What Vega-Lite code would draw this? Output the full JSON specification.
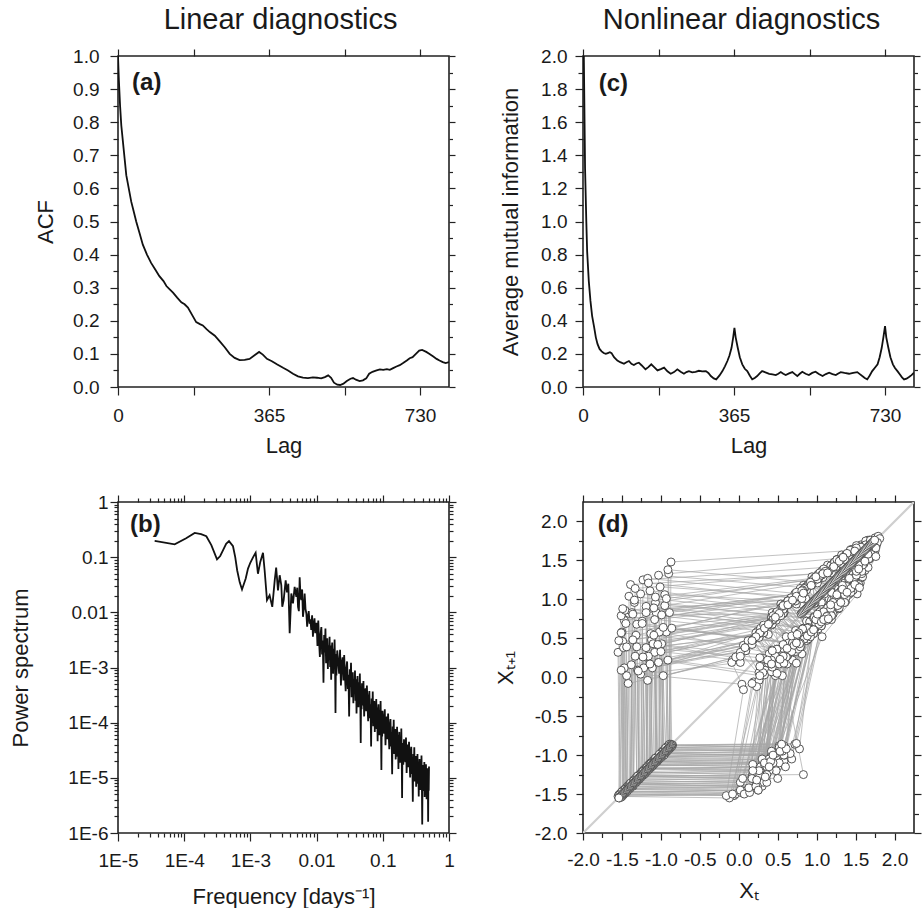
{
"$schema":"https://vega.github.io/schema/vega-lite/v6.json",
"background":"white",
"padding":{"left":9,"top":5,"right":0,"bottom":0},
"config":{
 "font":"Liberation Sans",
 "view":{"stroke":"#222","strokeWidth":1.6},
 "axis":{"grid":false,"domain":false,"labelFlush":false,"labelOverlap":false,"tickColor":"#222","tickWidth":1.2,"tickSize":8,"labelColor":"#1a1a1a","titleColor":"#1a1a1a","labelFontSize":19,"titleFontSize":22,"titleFontWeight":"normal","labelFont":"Liberation Sans","titleFont":"Liberation Sans"},
 "title":{"fontWeight":"normal","color":"#1a1a1a","font":"Liberation Sans"}
},
"columns":2,
"spacing":{"row":115,"column":134},
"bounds":"flush",
"concat":[
{
 "width":331,"height":331,
 "title":{"text":"Linear diagnostics","fontSize":29,"frame":"group","offset":12,"anchor":"middle","dx":-3},
 "data":{"values":[{"lag":0,"acf":1.0},{"lag":2,"acf":0.93},{"lag":5,"acf":0.85},{"lag":8,"acf":0.79},{"lag":12,"acf":0.74},{"lag":16,"acf":0.69},{"lag":20,"acf":0.64},{"lag":26,"acf":0.6},{"lag":32,"acf":0.56},{"lag":38,"acf":0.53},{"lag":44,"acf":0.5},{"lag":52,"acf":0.465},{"lag":60,"acf":0.43},{"lag":70,"acf":0.4},{"lag":80,"acf":0.375},{"lag":90,"acf":0.355},{"lag":100,"acf":0.335},{"lag":110,"acf":0.32},{"lag":117,"acf":0.305},{"lag":125,"acf":0.295},{"lag":133,"acf":0.285},{"lag":143,"acf":0.27},{"lag":153,"acf":0.256},{"lag":161,"acf":0.25},{"lag":169,"acf":0.24},{"lag":178,"acf":0.22},{"lag":189,"acf":0.196},{"lag":198,"acf":0.19},{"lag":205,"acf":0.186},{"lag":214,"acf":0.175},{"lag":222,"acf":0.166},{"lag":234,"acf":0.155},{"lag":246,"acf":0.138},{"lag":258,"acf":0.12},{"lag":270,"acf":0.1},{"lag":282,"acf":0.088},{"lag":294,"acf":0.081},{"lag":306,"acf":0.082},{"lag":318,"acf":0.085},{"lag":330,"acf":0.096},{"lag":341,"acf":0.106},{"lag":350,"acf":0.098},{"lag":360,"acf":0.085},{"lag":372,"acf":0.078},{"lag":385,"acf":0.068},{"lag":399,"acf":0.058},{"lag":411,"acf":0.05},{"lag":423,"acf":0.04},{"lag":435,"acf":0.032},{"lag":447,"acf":0.028},{"lag":459,"acf":0.027},{"lag":471,"acf":0.029},{"lag":481,"acf":0.028},{"lag":491,"acf":0.026},{"lag":500,"acf":0.03},{"lag":508,"acf":0.035},{"lag":515,"acf":0.028},{"lag":522,"acf":0.013},{"lag":530,"acf":0.007},{"lag":537,"acf":0.006},{"lag":545,"acf":0.01},{"lag":553,"acf":0.018},{"lag":562,"acf":0.025},{"lag":568,"acf":0.027},{"lag":575,"acf":0.022},{"lag":584,"acf":0.018},{"lag":592,"acf":0.02},{"lag":600,"acf":0.026},{"lag":607,"acf":0.04},{"lag":615,"acf":0.046},{"lag":625,"acf":0.05},{"lag":633,"acf":0.053},{"lag":641,"acf":0.052},{"lag":650,"acf":0.054},{"lag":657,"acf":0.052},{"lag":665,"acf":0.057},{"lag":673,"acf":0.062},{"lag":681,"acf":0.066},{"lag":690,"acf":0.073},{"lag":698,"acf":0.08},{"lag":705,"acf":0.087},{"lag":712,"acf":0.09},{"lag":720,"acf":0.1},{"lag":728,"acf":0.11},{"lag":735,"acf":0.112},{"lag":745,"acf":0.106},{"lag":753,"acf":0.1},{"lag":762,"acf":0.092},{"lag":770,"acf":0.085},{"lag":777,"acf":0.08},{"lag":785,"acf":0.075},{"lag":792,"acf":0.072},{"lag":800,"acf":0.075}]},
 "layer":[
  {"mark":{"type":"line","color":"#111","strokeWidth":1.8,"clip":true},
   "encoding":{
    "x":{"field":"lag","type":"quantitative","scale":{"domain":[0,800],"nice":false,"zero":false},"axis":{"orient":"bottom","values":[0,182.5,365,547.5,730],"labelExpr":"datum.value % 365 == 0 ? datum.label : ''","title":"Lag","labelPadding":11,"titlePadding":10}},
    "y":{"field":"acf","type":"quantitative","scale":{"domain":[0,1],"nice":false},"axis":{"orient":"left","values":[0,0.1,0.2,0.3,0.4,0.5,0.6,0.7,0.8,0.9,1],"format":".1f","title":"ACF","labelPadding":11,"titlePadding":15}}}},
  {"data":{"values":[{"lag":0,"acf":0}]},"mark":{"type":"point","opacity":0},
   "encoding":{
    "x":{"field":"lag","type":"quantitative","axis":{"orient":"top","values":[0,182.5,365,547.5,730],"labels":false,"title":null,"tickSize":7}},
    "y":{"field":"acf","type":"quantitative","axis":{"orient":"right","values":[0,0.1,0.2,0.3,0.4,0.5,0.6,0.7,0.8,0.9,1],"labels":false,"title":null,"tickSize":6}}}},
  {"data":{"values":[{"lag":0,"acf":0}]},"mark":{"type":"point","opacity":0},
   "encoding":{
    "x":{"field":"lag","type":"quantitative","axis":null},
    "y":{"field":"acf","type":"quantitative","axis":{"orient":"left","values":[0.05,0.15,0.25,0.35,0.45,0.55,0.65,0.75,0.85,0.95],"labels":false,"title":null,"tickSize":5}}}},
  {"data":{"values":[{"lag":0,"acf":0}]},"mark":{"type":"point","opacity":0},
   "encoding":{
    "x":{"field":"lag","type":"quantitative","axis":null},
    "y":{"field":"acf","type":"quantitative","axis":{"orient":"right","values":[0.05,0.15,0.25,0.35,0.45,0.55,0.65,0.75,0.85,0.95],"labels":false,"title":null,"tickSize":3.5}}}},
  {"data":{"values":[{}]},"mark":{"type":"text","text":"(a)","fontSize":24,"fontWeight":"bold","align":"left","baseline":"alphabetic","color":"#1a1a1a"},
   "encoding":{"x":{"datum":34,"type":"quantitative","axis":null},"y":{"datum":0.897,"type":"quantitative","axis":null}}}
 ],
 "resolve":{"axis":{"x":"independent","y":"independent"}}
},
{
 "width":331,"height":331,
 "title":{"text":"Nonlinear diagnostics","fontSize":29,"frame":"group","offset":12,"anchor":"middle","dx":-7},
 "data":{"values":[{"lag":0,"ami":2.6},{"lag":2,"ami":2.0},{"lag":5,"ami":1.32},{"lag":8,"ami":1.0},{"lag":10,"ami":0.82},{"lag":14,"ami":0.64},{"lag":18,"ami":0.52},{"lag":22,"ami":0.43},{"lag":27,"ami":0.36},{"lag":31,"ami":0.3},{"lag":35,"ami":0.26},{"lag":40,"ami":0.23},{"lag":45,"ami":0.215},{"lag":50,"ami":0.205},{"lag":55,"ami":0.2},{"lag":60,"ami":0.205},{"lag":65,"ami":0.21},{"lag":69,"ami":0.205},{"lag":75,"ami":0.18},{"lag":83,"ami":0.16},{"lag":90,"ami":0.15},{"lag":99,"ami":0.14},{"lag":105,"ami":0.15},{"lag":111,"ami":0.157},{"lag":117,"ami":0.14},{"lag":123,"ami":0.133},{"lag":129,"ami":0.142},{"lag":135,"ami":0.147},{"lag":142,"ami":0.13},{"lag":151,"ami":0.107},{"lag":158,"ami":0.12},{"lag":165,"ami":0.137},{"lag":172,"ami":0.12},{"lag":180,"ami":0.1},{"lag":188,"ami":0.108},{"lag":196,"ami":0.117},{"lag":204,"ami":0.095},{"lag":212,"ami":0.08},{"lag":220,"ami":0.09},{"lag":228,"ami":0.107},{"lag":236,"ami":0.092},{"lag":244,"ami":0.08},{"lag":250,"ami":0.09},{"lag":256,"ami":0.096},{"lag":264,"ami":0.088},{"lag":272,"ami":0.092},{"lag":280,"ami":0.098},{"lag":288,"ami":0.094},{"lag":297,"ami":0.096},{"lag":303,"ami":0.085},{"lag":309,"ami":0.066},{"lag":316,"ami":0.052},{"lag":322,"ami":0.046},{"lag":330,"ami":0.07},{"lag":337,"ami":0.096},{"lag":343,"ami":0.125},{"lag":349,"ami":0.157},{"lag":354,"ami":0.19},{"lag":359,"ami":0.237},{"lag":363,"ami":0.3},{"lag":366,"ami":0.358},{"lag":369,"ami":0.3},{"lag":374,"ami":0.237},{"lag":379,"ami":0.18},{"lag":385,"ami":0.137},{"lag":391,"ami":0.11},{"lag":397,"ami":0.096},{"lag":403,"ami":0.07},{"lag":409,"ami":0.046},{"lag":415,"ami":0.055},{"lag":421,"ami":0.066},{"lag":427,"ami":0.082},{"lag":433,"ami":0.096},{"lag":441,"ami":0.088},{"lag":450,"ami":0.08},{"lag":458,"ami":0.076},{"lag":466,"ami":0.072},{"lag":472,"ami":0.08},{"lag":478,"ami":0.09},{"lag":484,"ami":0.08},{"lag":490,"ami":0.072},{"lag":498,"ami":0.082},{"lag":506,"ami":0.09},{"lag":512,"ami":0.078},{"lag":518,"ami":0.066},{"lag":524,"ami":0.08},{"lag":530,"ami":0.092},{"lag":538,"ami":0.08},{"lag":546,"ami":0.072},{"lag":554,"ami":0.085},{"lag":562,"ami":0.092},{"lag":570,"ami":0.078},{"lag":579,"ami":0.066},{"lag":587,"ami":0.078},{"lag":595,"ami":0.086},{"lag":603,"ami":0.078},{"lag":611,"ami":0.072},{"lag":617,"ami":0.082},{"lag":623,"ami":0.09},{"lag":632,"ami":0.085},{"lag":643,"ami":0.08},{"lag":653,"ami":0.085},{"lag":663,"ami":0.09},{"lag":669,"ami":0.078},{"lag":675,"ami":0.066},{"lag":681,"ami":0.055},{"lag":687,"ami":0.046},{"lag":693,"ami":0.07},{"lag":699,"ami":0.096},{"lag":705,"ami":0.115},{"lag":712,"ami":0.137},{"lag":717,"ami":0.18},{"lag":722,"ami":0.237},{"lag":726,"ami":0.3},{"lag":730,"ami":0.368},{"lag":733,"ami":0.3},{"lag":738,"ami":0.237},{"lag":743,"ami":0.18},{"lag":749,"ami":0.137},{"lag":754,"ami":0.115},{"lag":760,"ami":0.096},{"lag":766,"ami":0.075},{"lag":771,"ami":0.058},{"lag":776,"ami":0.046},{"lag":782,"ami":0.05},{"lag":788,"ami":0.06},{"lag":794,"ami":0.072},{"lag":800,"ami":0.086}]},
 "layer":[
  {"mark":{"type":"line","color":"#111","strokeWidth":1.8,"clip":true},
   "encoding":{
    "x":{"field":"lag","type":"quantitative","scale":{"domain":[0,800],"nice":false,"zero":false},"axis":{"orient":"bottom","values":[0,182.5,365,547.5,730],"labelExpr":"datum.value % 365 == 0 ? datum.label : ''","title":"Lag","labelPadding":11,"titlePadding":10}},
    "y":{"field":"ami","type":"quantitative","scale":{"domain":[0,2],"nice":false},"axis":{"orient":"left","values":[0,0.2,0.4,0.6,0.8,1,1.2,1.4,1.6,1.8,2],"format":".1f","title":"Average mutual information","labelPadding":8,"titlePadding":18}}}},
  {"data":{"values":[{"lag":0,"ami":0}]},"mark":{"type":"point","opacity":0},
   "encoding":{
    "x":{"field":"lag","type":"quantitative","axis":{"orient":"top","values":[0,182.5,365,547.5,730],"labels":false,"title":null,"tickSize":7}},
    "y":{"field":"ami","type":"quantitative","axis":{"orient":"right","values":[0,0.2,0.4,0.6,0.8,1,1.2,1.4,1.6,1.8,2],"labels":false,"title":null,"tickSize":6}}}},
  {"data":{"values":[{"lag":0,"ami":0}]},"mark":{"type":"point","opacity":0},
   "encoding":{
    "x":{"field":"lag","type":"quantitative","axis":null},
    "y":{"field":"ami","type":"quantitative","axis":{"orient":"left","values":[0.1,0.3,0.5,0.7,0.9,1.1,1.3,1.5,1.7,1.9],"labels":false,"title":null,"tickSize":5}}}},
  {"data":{"values":[{"lag":0,"ami":0}]},"mark":{"type":"point","opacity":0},
   "encoding":{
    "x":{"field":"lag","type":"quantitative","axis":null},
    "y":{"field":"ami","type":"quantitative","axis":{"orient":"right","values":[0.1,0.3,0.5,0.7,0.9,1.1,1.3,1.5,1.7,1.9],"labels":false,"title":null,"tickSize":3.5}}}},
  {"data":{"values":[{}]},"mark":{"type":"text","text":"(c)","fontSize":24,"fontWeight":"bold","align":"left","baseline":"alphabetic","color":"#1a1a1a"},
   "encoding":{"x":{"datum":38,"type":"quantitative","axis":null},"y":{"datum":1.789,"type":"quantitative","axis":null}}}
 ],
 "resolve":{"axis":{"x":"independent","y":"independent"}}
},
{
 "width":331,"height":331,
 "data":{"values":[{"f":3.58e-5,"p":0.197},{"f":7.18e-5,"p":0.171},{"f":1.07e-4,"p":0.22},{"f":1.44e-4,"p":0.275},{"f":1.8e-4,"p":0.262},{"f":2.16e-4,"p":0.24},{"f":2.57e-4,"p":0.165},{"f":3.13e-4,"p":0.091},{"f":3.5e-4,"p":0.105},{"f":3.85e-4,"p":0.133},{"f":4.3e-4,"p":0.175},{"f":4.75e-4,"p":0.195},{"f":5.46e-4,"p":0.158},{"f":5.9e-4,"p":0.1},{"f":6.31e-4,"p":0.058},{"f":6.9e-4,"p":0.035},{"f":7.47e-4,"p":0.026},{"f":8.5e-4,"p":0.041},{"f":9.2e-4,"p":0.062},{"f":1.0e-3,"p":0.08},{"f":1.1e-3,"p":0.1},{"f":1.2e-3,"p":0.12},{"f":1.3e-3,"p":0.05},{"f":1.41e-3,"p":0.082},{"f":1.55e-3,"p":0.12},{"f":1.64e-3,"p":0.058},{"f":1.78e-3,"p":0.0166},{"f":1.95e-3,"p":0.0204},{"f":2.14e-3,"p":0.0126},{"f":2.33e-3,"p":0.038},{"f":2.45e-3,"p":0.065},{"f":2.61e-3,"p":0.025},{"f":2.77e-3,"p":0.047},{"f":2.93e-3,"p":0.031},{"f":3.03e-3,"p":0.0126},{"f":3.18e-3,"p":0.0166},{"f":3.41e-3,"p":0.038},{"f":3.57e-3,"p":0.023},{"f":3.74e-3,"p":0.033},{"f":3.92e-3,"p":0.0042},{"f":4.15e-3,"p":0.022},{"f":4.4e-3,"p":0.0145},{"f":4.66e-3,"p":0.029},{"f":4.94e-3,"p":0.019},{"f":5.1e-3,"p":0.028},{"f":5.24e-3,"p":0.0126},{"f":5.4e-3,"p":0.0105},{"f":5.55e-3,"p":0.043},{"f":5.7e-3,"p":0.021},{"f":5.87e-3,"p":0.0166},{"f":6.05e-3,"p":0.026},{"f":6.22e-3,"p":0.0083},{"f":6.4e-3,"p":0.0115},{"f":6.6e-3,"p":0.022},{"f":6.8e-3,"p":0.0115},{"f":7.0e-3,"p":0.0095},{"f":7.2e-3,"p":0.0055},{"f":7.4e-3,"p":0.0082},{"f":7.6e-3,"p":0.0105},{"f":7.85e-3,"p":0.0062},{"f":8.05e-3,"p":0.0075},{"f":8.3e-3,"p":0.0048},{"f":8.55e-3,"p":0.0088},{"f":8.8e-3,"p":0.0036},{"f":9.05e-3,"p":0.0062},{"f":9.3e-3,"p":0.0078},{"f":9.55e-3,"p":0.0042},
 {"f":0.0100,"p":6.46e-3},{"f":0.0103,"p":2.46e-3},{"f":0.0106,"p":7.1e-3},{"f":0.0109,"p":3.0e-3},{"f":0.0112,"p":1.56e-3},{"f":0.0115,"p":4.1e-3},{"f":0.0118,"p":5.4e-3},{"f":0.0121,"p":1.73e-3},{"f":0.0124,"p":3.1e-3},{"f":0.0127,"p":5.3e-4},{"f":0.0130,"p":3.87e-3},{"f":0.0133,"p":1.88e-3},{"f":0.0136,"p":5.1e-3},{"f":0.0139,"p":1.2e-3},{"f":0.0142,"p":2.33e-3},{"f":0.0145,"p":3.4e-3},{"f":0.0148,"p":9.4e-4},{"f":0.0151,"p":2.53e-3},{"f":0.0154,"p":1.38e-3},{"f":0.0157,"p":3.6e-3},{"f":0.0160,"p":1.02e-3},{"f":0.0163,"p":2.51e-3},{"f":0.0166,"p":6.0e-4},{"f":0.0169,"p":2.0e-3},{"f":0.0172,"p":2.84e-3},{"f":0.0175,"p":1.26e-3},{"f":0.0178,"p":7.7e-4},{"f":0.0181,"p":2.19e-3},{"f":0.0184,"p":9.3e-4},{"f":0.0187,"p":3.2e-3},{"f":0.0190,"p":1.15e-3},{"f":0.0193,"p":1.5e-4},{"f":0.0196,"p":1.76e-3},{"f":0.0199,"p":7.2e-4},
 {"f":0.0205,"p":2.04e-3},{"f":0.0212,"p":1.29e-3},{"f":0.0219,"p":7.7e-4},{"f":0.0226,"p":2.1e-3},{"f":0.0233,"p":4.7e-4},{"f":0.0240,"p":1.21e-3},{"f":0.0247,"p":1.53e-3},{"f":0.0254,"p":5.8e-4},{"f":0.0261,"p":1.68e-3},{"f":0.0268,"p":7.1e-4},{"f":0.0275,"p":3.7e-4},{"f":0.0282,"p":9.8e-4},{"f":0.0289,"p":1.29e-3},{"f":0.0296,"p":4.1e-4},{"f":0.0303,"p":7.4e-4},{"f":0.0310,"p":1.3e-4},{"f":0.0317,"p":9.3e-4},{"f":0.0324,"p":4.5e-4},{"f":0.0331,"p":1.22e-3},{"f":0.0338,"p":2.9e-4},{"f":0.0345,"p":5.7e-4},{"f":0.0352,"p":8.2e-4},{"f":0.0359,"p":2.25e-4},{"f":0.0366,"p":6.2e-4},{"f":0.0373,"p":3.3e-4},{"f":0.0380,"p":8.8e-4},{"f":0.0387,"p":2.5e-4},{"f":0.0394,"p":6.1e-4},{"f":0.0401,"p":1.47e-4},{"f":0.0408,"p":4.9e-4},{"f":0.0415,"p":7.0e-4},{"f":0.0422,"p":3.1e-4},{"f":0.0429,"p":1.9e-4},{"f":0.0436,"p":5.4e-4},{"f":0.0443,"p":2.27e-4},{"f":0.0450,"p":7.8e-4},{"f":0.0457,"p":2.8e-4},{"f":0.0464,"p":4.3e-5},{"f":0.0471,"p":4.3e-4},{"f":0.0478,"p":1.75e-4},{"f":0.0485,"p":5.2e-4},{"f":0.0492,"p":3.3e-4},{"f":0.0499,"p":2.05e-4},
 {"f":0.0510,"p":5.7e-4},{"f":0.0523,"p":1.3e-4},{"f":0.0536,"p":3.3e-4},{"f":0.0549,"p":4.2e-4},{"f":0.0562,"p":1.62e-4},{"f":0.0575,"p":4.7e-4},{"f":0.0588,"p":2.03e-4},{"f":0.0601,"p":1.06e-4},{"f":0.0614,"p":2.8e-4},{"f":0.0627,"p":3.75e-4},{"f":0.0640,"p":1.2e-4},{"f":0.0653,"p":2.16e-4},{"f":0.0666,"p":3.7e-5},{"f":0.0679,"p":2.75e-4},{"f":0.0692,"p":1.34e-4},{"f":0.0705,"p":3.66e-4},{"f":0.0718,"p":8.6e-5},{"f":0.0731,"p":1.69e-4},{"f":0.0744,"p":2.48e-4},{"f":0.0757,"p":6.8e-5},{"f":0.0770,"p":1.86e-4},{"f":0.0783,"p":1.03e-4},{"f":0.0796,"p":2.69e-4},{"f":0.0809,"p":7.7e-5},{"f":0.0822,"p":1.89e-4},{"f":0.0835,"p":4.6e-5},{"f":0.0848,"p":1.52e-4},{"f":0.0861,"p":2.16e-4},{"f":0.0874,"p":9.6e-5},{"f":0.0887,"p":5.9e-5},{"f":0.0900,"p":1.68e-4},{"f":0.0913,"p":7.1e-5},{"f":0.0926,"p":2.46e-4},{"f":0.0939,"p":9.0e-5},{"f":0.0952,"p":1.38e-5},{"f":0.0965,"p":1.36e-4},{"f":0.0978,"p":5.6e-5},{"f":0.0991,"p":1.64e-4},
 {"f":0.1020,"p":1.04e-4},{"f":0.1046,"p":6.3e-5},{"f":0.1072,"p":1.75e-4},{"f":0.1098,"p":3.9e-5},{"f":0.1124,"p":1.02e-4},{"f":0.1150,"p":1.29e-4},{"f":0.1176,"p":5.0e-5},{"f":0.1202,"p":1.46e-4},{"f":0.1228,"p":6.2e-5},{"f":0.1254,"p":3.3e-5},{"f":0.1280,"p":8.7e-5},{"f":0.1306,"p":1.16e-4},{"f":0.1332,"p":3.7e-5},{"f":0.1358,"p":6.7e-5},{"f":0.1384,"p":1.16e-5},{"f":0.1410,"p":8.5e-5},{"f":0.1436,"p":4.2e-5},{"f":0.1462,"p":1.13e-4},{"f":0.1488,"p":2.7e-5},{"f":0.1514,"p":5.3e-5},{"f":0.1540,"p":7.7e-5},{"f":0.1566,"p":2.16e-5},{"f":0.1592,"p":5.9e-5},{"f":0.1618,"p":3.2e-5},{"f":0.1644,"p":8.4e-5},{"f":0.1670,"p":2.4e-5},{"f":0.1696,"p":5.9e-5},{"f":0.1722,"p":1.44e-5},{"f":0.1748,"p":4.8e-5},{"f":0.1774,"p":6.8e-5},{"f":0.1800,"p":3.0e-5},{"f":0.1826,"p":1.87e-5},{"f":0.1852,"p":5.3e-5},{"f":0.1878,"p":2.25e-5},{"f":0.1904,"p":7.8e-5},{"f":0.1930,"p":2.83e-5},{"f":0.1956,"p":4.3e-6},{"f":0.1982,"p":4.3e-5},
 {"f":0.204,"p":1.72e-5},{"f":0.209,"p":5.0e-5},{"f":0.214,"p":3.2e-5},{"f":0.219,"p":1.93e-5},{"f":0.224,"p":5.4e-5},{"f":0.229,"p":1.22e-5},{"f":0.234,"p":3.2e-5},{"f":0.239,"p":4.0e-5},{"f":0.244,"p":1.55e-5},{"f":0.249,"p":4.5e-5},{"f":0.254,"p":1.96e-5},{"f":0.259,"p":1.02e-5},{"f":0.264,"p":2.73e-5},{"f":0.269,"p":3.64e-5},{"f":0.274,"p":1.17e-5},{"f":0.279,"p":2.12e-5},{"f":0.284,"p":3.7e-6},{"f":0.289,"p":2.7e-5},{"f":0.294,"p":1.32e-5},{"f":0.299,"p":3.6e-5},{"f":0.304,"p":8.6e-6},{"f":0.309,"p":1.69e-5},{"f":0.314,"p":2.48e-5},{"f":0.319,"p":6.9e-6},{"f":0.324,"p":1.88e-5},{"f":0.329,"p":1.03e-5},{"f":0.334,"p":2.71e-5},{"f":0.339,"p":7.8e-6},{"f":0.344,"p":1.9e-5},{"f":0.349,"p":4.6e-6},{"f":0.354,"p":1.55e-5},{"f":0.359,"p":2.19e-5},{"f":0.364,"p":9.8e-6},{"f":0.369,"p":6.05e-6},{"f":0.374,"p":1.71e-5},{"f":0.379,"p":7.3e-6},{"f":0.384,"p":2.53e-5},{"f":0.389,"p":9.2e-6},{"f":0.394,"p":1.42e-6},{"f":0.399,"p":1.41e-5},{"f":0.404,"p":5.8e-6},{"f":0.409,"p":1.71e-5},{"f":0.414,"p":1.11e-5},{"f":0.419,"p":6.8e-6},{"f":0.424,"p":1.94e-5},{"f":0.429,"p":4.5e-6},{"f":0.434,"p":1.17e-5},{"f":0.439,"p":1.53e-5},{"f":0.444,"p":5.9e-6},{"f":0.449,"p":1.76e-5},{"f":0.454,"p":7.7e-6},{"f":0.459,"p":4.1e-6},{"f":0.464,"p":1.11e-5},{"f":0.469,"p":1.49e-5},{"f":0.474,"p":4.9e-6},{"f":0.479,"p":9.0e-6},{"f":0.484,"p":1.6e-6},{"f":0.489,"p":1.16e-5},{"f":0.494,"p":5.8e-6},{"f":0.499,"p":1.6e-5}]},
 "layer":[
  {"mark":{"type":"line","color":"#111","strokeWidth":1.8,"clip":true},
   "encoding":{
    "x":{"field":"f","type":"quantitative","scale":{"type":"log","domain":[1e-5,1],"nice":false},"axis":{"orient":"bottom","values":[1e-5,1e-4,1e-3,0.01,0.1,1],"labelExpr":"datum.value < 0.005 ? '1E-' + round(-log(datum.value)/LN10) : (datum.value < 0.05 ? '0.01' : (datum.value < 0.5 ? '0.1' : '1'))","title":"Frequency [days⁻¹]","labelPadding":10,"titlePadding":16}},
    "y":{"field":"p","type":"quantitative","scale":{"type":"log","domain":[1e-6,1],"nice":false},"axis":{"orient":"left","values":[1e-6,1e-5,1e-4,1e-3,0.01,0.1,1],"labelExpr":"datum.value < 0.005 ? '1E-' + round(-log(datum.value)/LN10) : (datum.value < 0.05 ? '0.01' : (datum.value < 0.5 ? '0.1' : '1'))","title":"Power spectrum","labelPadding":2,"titlePadding":35}}}},
  {"data":{"values":[{"f":0.01,"p":0.01}]},"mark":{"type":"point","opacity":0},
   "encoding":{
    "x":{"field":"f","type":"quantitative","axis":{"orient":"top","values":[1e-5,1e-4,1e-3,0.01,0.1,1],"labels":false,"title":null,"tickSize":7}},
    "y":{"field":"p","type":"quantitative","axis":{"orient":"right","values":[1e-6,1e-5,1e-4,1e-3,0.01,0.1,1],"labels":false,"title":null,"tickSize":7}}}},
  {"data":{"values":[{"f":0.01,"p":0.01}]},"mark":{"type":"point","opacity":0},
   "encoding":{
    "x":{"field":"f","type":"quantitative","axis":{"orient":"bottom","values":[2e-5,3e-5,4e-5,5e-5,6e-5,7e-5,8e-5,9e-5,2e-4,3e-4,4e-4,5e-4,6e-4,7e-4,8e-4,9e-4,0.002,0.003,0.004,0.005,0.006,0.007,0.008,0.009,0.02,0.03,0.04,0.05,0.06,0.07,0.08,0.09,0.2,0.3,0.4,0.5,0.6,0.7,0.8,0.9],"labels":false,"title":null,"tickSize":4}},
    "y":{"field":"p","type":"quantitative","axis":{"orient":"left","values":[2e-6,3e-6,4e-6,5e-6,6e-6,7e-6,8e-6,9e-6,2e-5,3e-5,4e-5,5e-5,6e-5,7e-5,8e-5,9e-5,2e-4,3e-4,4e-4,5e-4,6e-4,7e-4,8e-4,9e-4,0.002,0.003,0.004,0.005,0.006,0.007,0.008,0.009,0.02,0.03,0.04,0.05,0.06,0.07,0.08,0.09,0.2,0.3,0.4,0.5,0.6,0.7,0.8,0.9],"labels":false,"title":null,"tickSize":4}}}},
  {"data":{"values":[{"f":0.01,"p":0.01}]},"mark":{"type":"point","opacity":0},
   "encoding":{
    "x":{"field":"f","type":"quantitative","axis":{"orient":"top","values":[2e-5,3e-5,4e-5,5e-5,6e-5,7e-5,8e-5,9e-5,2e-4,3e-4,4e-4,5e-4,6e-4,7e-4,8e-4,9e-4,0.002,0.003,0.004,0.005,0.006,0.007,0.008,0.009,0.02,0.03,0.04,0.05,0.06,0.07,0.08,0.09,0.2,0.3,0.4,0.5,0.6,0.7,0.8,0.9],"labels":false,"title":null,"tickSize":4}},
    "y":{"field":"p","type":"quantitative","axis":{"orient":"right","values":[2e-6,3e-6,4e-6,5e-6,6e-6,7e-6,8e-6,9e-6,2e-5,3e-5,4e-5,5e-5,6e-5,7e-5,8e-5,9e-5,2e-4,3e-4,4e-4,5e-4,6e-4,7e-4,8e-4,9e-4,0.002,0.003,0.004,0.005,0.006,0.007,0.008,0.009,0.02,0.03,0.04,0.05,0.06,0.07,0.08,0.09,0.2,0.3,0.4,0.5,0.6,0.7,0.8,0.9],"labels":false,"title":null,"tickSize":4}}}},
  {"data":{"values":[{}]},"mark":{"type":"text","text":"(b)","fontSize":24,"fontWeight":"bold","align":"left","baseline":"alphabetic","color":"#1a1a1a"},
   "encoding":{"x":{"datum":1.52e-5,"type":"quantitative","axis":null},"y":{"datum":0.286,"type":"quantitative","axis":null}}}
 ],
 "resolve":{"axis":{"x":"independent","y":"independent"}}
},
{
 "width":331,"height":331,
 "data":{"values":[
{"x":-1.20,"y":-1.22},{"x":-1.22,"y":-1.19},{"x":-1.19,"y":0.38},{"x":0.38,"y":0.55},{"x":0.55,"y":0.83},{"x":0.83,"y":1.08},{"x":1.08,"y":0.98},{"x":0.98,"y":0.63},{"x":0.63,"y":0.50},{"x":0.50,"y":-1.15},
{"x":-1.15,"y":-1.17},{"x":-1.17,"y":-1.14},{"x":-1.14,"y":-1.12},{"x":-1.12,"y":0.48},{"x":0.48,"y":0.73},{"x":0.73,"y":1.08},{"x":1.08,"y":1.28},{"x":1.28,"y":1.26},{"x":1.26,"y":1.29},{"x":1.29,"y":1.23},{"x":1.23,"y":0.88},{"x":0.88,"y":0.53},{"x":0.53,"y":0.18},{"x":0.18,"y":-1.25},
{"x":-1.25,"y":-1.28},{"x":-1.28,"y":-1.30},{"x":-1.30,"y":0.09},{"x":0.09,"y":0.34},{"x":0.34,"y":0.64},{"x":0.64,"y":0.49},{"x":0.49,"y":0.30},{"x":0.30,"y":-1.38},
{"x":-1.38,"y":-1.36},{"x":-1.36,"y":-1.40},{"x":-1.40,"y":-1.42},{"x":-1.42,"y":-0.08},{"x":-0.08,"y":0.22},{"x":0.22,"y":0.52},{"x":0.52,"y":0.82},{"x":0.82,"y":1.12},{"x":1.12,"y":1.37},{"x":1.37,"y":1.52},{"x":1.52,"y":1.57},{"x":1.57,"y":1.55},{"x":1.55,"y":1.58},{"x":1.58,"y":1.56},{"x":1.56,"y":1.47},{"x":1.47,"y":1.17},{"x":1.17,"y":0.77},{"x":0.77,"y":0.42},{"x":0.42,"y":-1.00},
{"x":-1.00,"y":-0.98},{"x":-0.98,"y":-0.95},{"x":-0.95,"y":0.92},{"x":0.92,"y":1.22},{"x":1.22,"y":1.47},{"x":1.47,"y":1.64},{"x":1.64,"y":1.72},{"x":1.72,"y":1.70},{"x":1.70,"y":1.73},{"x":1.73,"y":1.71},{"x":1.71,"y":1.68},{"x":1.68,"y":1.52},{"x":1.52,"y":1.07},{"x":1.07,"y":0.52},{"x":0.52,"y":-0.88},
{"x":-0.88,"y":-0.90},{"x":-0.90,"y":-0.92},{"x":-0.92,"y":-0.95},{"x":-0.95,"y":1.06},{"x":1.06,"y":0.96},{"x":0.96,"y":0.98},{"x":0.98,"y":0.95},{"x":0.95,"y":1.21},{"x":1.21,"y":1.36},{"x":1.36,"y":1.31},{"x":1.31,"y":1.06},{"x":1.06,"y":0.66},{"x":0.66,"y":0.31},{"x":0.31,"y":-1.10},
{"x":-1.10,"y":-1.12},{"x":-1.12,"y":-1.15},{"x":-1.15,"y":-1.18},{"x":-1.18,"y":-1.20},{"x":-1.20,"y":0.26},{"x":0.26,"y":0.06},{"x":0.06,"y":0.41},{"x":0.41,"y":0.71},{"x":0.71,"y":0.51},{"x":0.51,"y":0.32},{"x":0.32,"y":-1.33},
{"x":-1.33,"y":-1.35},{"x":-1.35,"y":-1.32},{"x":-1.32,"y":0.54},{"x":0.54,"y":0.94},{"x":0.94,"y":1.29},{"x":1.29,"y":1.51},{"x":1.51,"y":1.49},{"x":1.49,"y":1.52},{"x":1.52,"y":1.47},{"x":1.47,"y":1.19},{"x":1.19,"y":0.74},{"x":0.74,"y":0.39},{"x":0.39,"y":-1.05},
{"x":-1.05,"y":-1.08},{"x":-1.08,"y":-1.06},{"x":-1.06,"y":0.83},{"x":0.83,"y":0.63},{"x":0.63,"y":0.93},{"x":0.93,"y":1.18},{"x":1.18,"y":0.88},{"x":0.88,"y":0.53},{"x":0.53,"y":0.28},{"x":0.28,"y":-1.40},
{"x":-1.40,"y":-1.43},{"x":-1.43,"y":-1.45},{"x":-1.45,"y":-1.47},{"x":-1.47,"y":0.12},{"x":0.12,"y":0.42},{"x":0.42,"y":0.67},{"x":0.67,"y":0.97},{"x":0.97,"y":0.95},{"x":0.95,"y":1.22},{"x":1.22,"y":1.02},{"x":1.02,"y":0.62},{"x":0.62,"y":0.17},{"x":0.17,"y":-1.28},
{"x":-1.28,"y":-1.26},{"x":-1.26,"y":-1.24},{"x":-1.24,"y":0.72},{"x":0.72,"y":1.07},{"x":1.07,"y":1.37},{"x":1.37,"y":1.57},{"x":1.57,"y":1.70},{"x":1.70,"y":1.74},{"x":1.74,"y":1.76},{"x":1.76,"y":1.75},{"x":1.75,"y":1.62},{"x":1.62,"y":1.37},{"x":1.37,"y":0.97},{"x":0.97,"y":0.78},{"x":0.78,"y":-0.92},
{"x":-0.92,"y":-0.95},{"x":-0.95,"y":-0.97},{"x":-0.97,"y":-1.00},{"x":-1.00,"y":0.42},{"x":0.42,"y":0.77},{"x":0.77,"y":1.07},{"x":1.07,"y":0.87},{"x":0.87,"y":0.52},{"x":0.52,"y":0.22},{"x":0.22,"y":-1.22},
{"x":-1.22,"y":-1.25},{"x":-1.25,"y":-1.27},{"x":-1.27,"y":-1.29},{"x":-1.29,"y":-1.31},{"x":-1.31,"y":0.39},{"x":0.39,"y":0.24},{"x":0.24,"y":0.59},{"x":0.59,"y":0.94},{"x":0.94,"y":0.74},{"x":0.74,"y":0.39},{"x":0.39,"y":0.25},{"x":0.25,"y":-1.45},
{"x":-1.45,"y":-1.48},{"x":-1.48,"y":-1.50},{"x":-1.50,"y":0.58},{"x":0.58,"y":0.83},{"x":0.83,"y":1.18},{"x":1.18,"y":1.43},{"x":1.43,"y":1.41},{"x":1.41,"y":1.28},{"x":1.28,"y":0.88},{"x":0.88,"y":0.48},{"x":0.48,"y":-1.00},
{"x":-1.00,"y":-1.02},{"x":-1.02,"y":-1.04},{"x":-1.04,"y":-1.07},{"x":-1.07,"y":0.96},{"x":0.96,"y":1.26},{"x":1.26,"y":1.51},{"x":1.51,"y":1.66},{"x":1.66,"y":1.76},{"x":1.76,"y":1.78},{"x":1.78,"y":1.75},{"x":1.75,"y":1.71},{"x":1.71,"y":1.56},{"x":1.56,"y":1.21},{"x":1.21,"y":0.81},{"x":0.81,"y":0.30},{"x":0.30,"y":-1.05},
{"x":-1.05,"y":-1.03},{"x":-1.03,"y":-1.01},{"x":-1.01,"y":1.16},{"x":1.16,"y":1.01},{"x":1.01,"y":1.31},{"x":1.31,"y":1.16},{"x":1.16,"y":0.91},{"x":0.91,"y":0.51},{"x":0.51,"y":0.21},{"x":0.21,"y":-1.18},
{"x":-1.18,"y":-1.16},{"x":-1.16,"y":-1.13},{"x":-1.13,"y":-1.10},{"x":-1.10,"y":0.43},{"x":0.43,"y":0.68},{"x":0.68,"y":0.38},{"x":0.38,"y":0.68},{"x":0.68,"y":0.98},{"x":0.98,"y":0.63},{"x":0.63,"y":0.48},{"x":0.48,"y":-1.20},
{"x":-1.20,"y":-1.23},{"x":-1.23,"y":-1.26},{"x":-1.26,"y":0.04},{"x":0.04,"y":-0.09},{"x":-0.09,"y":0.19},{"x":0.19,"y":0.49},{"x":0.49,"y":0.79},{"x":0.79,"y":0.54},{"x":0.54,"y":0.19},{"x":0.19,"y":-0.06},{"x":-0.06,"y":-1.52},
{"x":-1.52,"y":-1.50},{"x":-1.50,"y":-1.53},{"x":-1.53,"y":-1.55},{"x":-1.55,"y":0.32},{"x":0.32,"y":0.57},{"x":0.57,"y":0.87},{"x":0.87,"y":1.12},{"x":1.12,"y":1.37},{"x":1.37,"y":1.52},{"x":1.52,"y":1.54},{"x":1.54,"y":1.51},{"x":1.51,"y":1.42},{"x":1.42,"y":1.07},{"x":1.07,"y":0.72},{"x":0.72,"y":-0.86},
{"x":-0.86,"y":-0.88},{"x":-0.88,"y":-0.90},{"x":-0.90,"y":1.33},{"x":1.33,"y":1.53},{"x":1.53,"y":1.68},{"x":1.68,"y":1.76},{"x":1.76,"y":1.74},{"x":1.74,"y":1.77},{"x":1.77,"y":1.70},{"x":1.70,"y":1.56},{"x":1.56,"y":1.28},{"x":1.28,"y":0.88},{"x":0.88,"y":0.48},{"x":0.48,"y":-0.98},
{"x":-0.98,"y":-1.00},{"x":-1.00,"y":-1.03},{"x":-1.03,"y":-1.05},{"x":-1.05,"y":-1.08},{"x":-1.08,"y":0.74},{"x":0.74,"y":0.94},{"x":0.94,"y":1.19},{"x":1.19,"y":0.99},{"x":0.99,"y":0.69},{"x":0.69,"y":0.22},{"x":0.22,"y":-1.42},
{"x":-1.42,"y":-1.44},{"x":-1.44,"y":-1.41},{"x":-1.41,"y":0.82},{"x":0.82,"y":1.07},{"x":1.07,"y":1.32},{"x":1.32,"y":1.47},{"x":1.47,"y":1.45},{"x":1.45,"y":1.48},{"x":1.48,"y":1.39},{"x":1.39,"y":1.12},{"x":1.12,"y":0.82},{"x":0.82,"y":0.52},{"x":0.52,"y":-0.95},
{"x":-0.95,"y":-0.97},{"x":-0.97,"y":-0.99},{"x":-0.99,"y":0.43},{"x":0.43,"y":0.73},{"x":0.73,"y":0.98},{"x":0.98,"y":1.23},{"x":1.23,"y":1.03},{"x":1.03,"y":0.73},{"x":0.73,"y":0.43},{"x":0.43,"y":0.35},{"x":0.35,"y":-1.30},
{"x":-1.30,"y":-1.32},{"x":-1.32,"y":-1.35},{"x":-1.35,"y":-1.38},{"x":-1.38,"y":0.16},{"x":0.16,"y":0.46},{"x":0.46,"y":0.26},{"x":0.26,"y":-0.04},{"x":-0.04,"y":-1.50},
{"x":-1.50,"y":-1.52},{"x":-1.52,"y":-1.49},{"x":-1.49,"y":0.46},{"x":0.46,"y":0.76},{"x":0.76,"y":1.06},{"x":1.06,"y":1.31},{"x":1.31,"y":1.49},{"x":1.49,"y":1.59},{"x":1.59,"y":1.61},{"x":1.61,"y":1.58},{"x":1.58,"y":1.46},{"x":1.46,"y":1.11},{"x":1.11,"y":0.76},{"x":0.76,"y":0.58},{"x":0.58,"y":-1.08},
{"x":-1.08,"y":-1.10},{"x":-1.10,"y":-1.07},{"x":-1.07,"y":1.03},{"x":1.03,"y":1.28},{"x":1.28,"y":1.08},{"x":1.08,"y":1.10},{"x":1.10,"y":1.07},{"x":1.07,"y":0.83},{"x":0.83,"y":0.48},{"x":0.48,"y":0.28},{"x":0.28,"y":-1.18},
{"x":-1.18,"y":-1.21},{"x":-1.21,"y":-1.24},{"x":-1.24,"y":-1.22},{"x":-1.22,"y":0.12},{"x":0.12,"y":0.42},{"x":0.42,"y":0.77},{"x":0.77,"y":1.02},{"x":1.02,"y":0.82},{"x":0.82,"y":0.47},{"x":0.47,"y":0.02},{"x":0.02,"y":-1.35},
{"x":-1.35,"y":-1.37},{"x":-1.37,"y":-1.39},{"x":-1.39,"y":1.19},{"x":1.19,"y":1.34},{"x":1.34,"y":1.24},{"x":1.24,"y":0.94},{"x":0.94,"y":0.59},{"x":0.59,"y":-0.90},
{"x":-0.90,"y":-0.92},{"x":-0.92,"y":-0.89},{"x":-0.89,"y":-0.87},{"x":-0.87,"y":1.48},{"x":1.48,"y":1.63},{"x":1.63,"y":1.75},{"x":1.75,"y":1.79},{"x":1.79,"y":1.81},{"x":1.81,"y":1.78},{"x":1.78,"y":1.73},{"x":1.73,"y":1.58},{"x":1.58,"y":1.28},{"x":1.28,"y":0.88},{"x":0.88,"y":0.48},{"x":0.48,"y":-1.02},
{"x":-1.02,"y":-1.05},{"x":-1.05,"y":-1.08},{"x":-1.08,"y":0.32},{"x":0.32,"y":0.57},{"x":0.57,"y":0.87},{"x":0.87,"y":0.72},{"x":0.72,"y":0.37},{"x":0.37,"y":0.22},{"x":0.22,"y":-1.38},
{"x":-1.38,"y":-1.40},{"x":-1.40,"y":-1.42},{"x":-1.42,"y":-1.44},{"x":-1.44,"y":0.02},{"x":0.02,"y":0.19},{"x":0.19,"y":0.49},{"x":0.49,"y":0.34},{"x":0.34,"y":0.09},{"x":0.09,"y":-1.46},
{"x":-1.46,"y":-1.44},{"x":-1.44,"y":-1.47},{"x":-1.47,"y":0.73},{"x":0.73,"y":0.98},{"x":0.98,"y":1.26},{"x":1.26,"y":1.43},{"x":1.43,"y":1.33},{"x":1.33,"y":1.35},{"x":1.35,"y":0.98},{"x":0.98,"y":0.63},{"x":0.63,"y":0.28},{"x":0.28,"y":-1.15},
{"x":-1.15,"y":-1.17},{"x":-1.17,"y":-1.19},{"x":-1.19,"y":0.91},{"x":0.91,"y":0.71},{"x":0.71,"y":1.01},{"x":1.01,"y":1.21},{"x":1.21,"y":0.96},{"x":0.96,"y":0.61},{"x":0.61,"y":0.52},{"x":0.52,"y":-1.10},
{"x":-1.10,"y":-1.08},{"x":-1.08,"y":-1.11},{"x":-1.11,"y":-1.13},{"x":-1.13,"y":0.56},{"x":0.56,"y":0.81},{"x":0.81,"y":1.11},{"x":1.11,"y":1.36},{"x":1.36,"y":1.54},{"x":1.54,"y":1.64},{"x":1.64,"y":1.62},{"x":1.62,"y":1.65},{"x":1.65,"y":1.58},{"x":1.58,"y":1.36},{"x":1.36,"y":0.96},{"x":0.96,"y":0.58},{"x":0.58,"y":-0.88},
{"x":-0.88,"y":-0.90},{"x":-0.90,"y":-0.93},{"x":-0.93,"y":0.58},{"x":0.58,"y":0.83},{"x":0.83,"y":0.58},{"x":0.58,"y":0.33},{"x":0.33,"y":0.03},{"x":0.03,"y":-1.48},
{"x":-1.48,"y":-1.46},{"x":-1.46,"y":-1.49},{"x":-1.49,"y":-1.51},{"x":-1.51,"y":0.09},{"x":0.09,"y":0.34},{"x":0.34,"y":0.64},{"x":0.64,"y":0.94},{"x":0.94,"y":1.19},{"x":1.19,"y":1.09},{"x":1.09,"y":0.74},{"x":0.74,"y":0.18},{"x":0.18,"y":-1.12},
{"x":-1.12,"y":-1.14},{"x":-1.14,"y":-1.16},{"x":-1.16,"y":0.27},{"x":0.27,"y":0.57},{"x":0.57,"y":0.82},{"x":0.82,"y":0.62},{"x":0.62,"y":0.27},{"x":0.27,"y":-1.25},
{"x":-1.25,"y":-1.27},{"x":-1.27,"y":-1.25},{"x":-1.25,"y":-1.23},{"x":-1.23,"y":1.25},{"x":1.25,"y":1.42},{"x":1.42,"y":1.57},{"x":1.57,"y":1.47},{"x":1.47,"y":1.22},{"x":1.22,"y":1.19},{"x":1.19,"y":0.87},{"x":0.87,"y":0.47},{"x":0.47,"y":-0.98},
{"x":-0.98,"y":-1.01},{"x":-1.01,"y":-1.03},{"x":-1.03,"y":0.19},{"x":0.19,"y":0.49},{"x":0.49,"y":0.29},{"x":0.29,"y":0.59},{"x":0.59,"y":0.39},{"x":0.39,"y":0.30},{"x":0.30,"y":-1.40},
{"x":-1.40,"y":-1.38},{"x":-1.38,"y":-1.36},{"x":-1.36,"y":0.48},{"x":0.48,"y":0.78},{"x":0.78,"y":1.03},{"x":1.03,"y":1.28},{"x":1.28,"y":1.13},{"x":1.13,"y":0.78},{"x":0.78,"y":0.43},{"x":0.43,"y":0.83},{"x":0.83,"y":-1.25},
{"x":-1.25,"y":-1.27},{"x":-1.27,"y":-1.30},{"x":-1.30,"y":-1.28},{"x":-1.28,"y":-1.31},{"x":-1.31,"y":0.68},{"x":0.68,"y":0.43},{"x":0.43,"y":0.73},{"x":0.73,"y":1.03},{"x":1.03,"y":1.33},{"x":1.33,"y":1.13},{"x":1.13,"y":0.73},{"x":0.73,"y":0.33},{"x":0.33,"y":-1.12},
{"x":-1.12,"y":-1.10},{"x":-1.10,"y":-1.13},{"x":-1.13,"y":-1.15},{"x":-1.15,"y":-1.14},{"x":-1.14,"y":1.11},{"x":1.11,"y":0.86},{"x":0.86,"y":1.16},{"x":1.16,"y":1.36},{"x":1.36,"y":1.21},{"x":1.21,"y":0.81},{"x":0.81,"y":0.56},{"x":0.56,"y":0.32},{"x":0.32,"y":-1.35},
{"x":-1.35,"y":-1.33},{"x":-1.33,"y":-1.36},{"x":-1.36,"y":-1.34},{"x":-1.34,"y":0.96},{"x":0.96,"y":0.76},{"x":0.76,"y":1.06},{"x":1.06,"y":1.31},{"x":1.31,"y":1.46},{"x":1.46,"y":1.31},{"x":1.31,"y":0.96},{"x":0.96,"y":0.56},{"x":0.56,"y":0.02},{"x":0.02,"y":-1.45},
{"x":-1.45,"y":-1.47},{"x":-1.47,"y":-1.44},{"x":-1.44,"y":-1.46},{"x":-1.46,"y":-1.48},{"x":-1.48,"y":0.38},{"x":0.38,"y":0.18},{"x":0.18,"y":0.48},{"x":0.48,"y":0.83},{"x":0.83,"y":0.58},{"x":0.58,"y":0.23},{"x":0.23,"y":-0.12},{"x":-0.12,"y":-1.55},
{"x":-1.55,"y":-1.53},{"x":-1.53,"y":-1.54},{"x":-1.54,"y":-1.51},{"x":-1.51,"y":0.79},{"x":0.79,"y":0.54},{"x":0.54,"y":0.89},{"x":0.89,"y":1.19},{"x":1.19,"y":1.44},{"x":1.44,"y":1.64},{"x":1.64,"y":1.69},{"x":1.69,"y":1.54},{"x":1.54,"y":1.19},{"x":1.19,"y":0.79},{"x":0.79,"y":0.39},{"x":0.39,"y":-1.20},
{"x":-1.20,"y":-1.18},{"x":-1.18,"y":-1.21},{"x":-1.21,"y":-1.19},{"x":-1.19,"y":-1.17},{"x":-1.17,"y":1.27},{"x":1.27,"y":1.02},{"x":1.02,"y":1.27},{"x":1.27,"y":1.47},{"x":1.47,"y":1.32},{"x":1.32,"y":0.97},{"x":0.97,"y":0.62},{"x":0.62,"y":0.42},{"x":0.42,"y":-0.95},
{"x":-0.95,"y":-0.93},{"x":-0.93,"y":-0.96},{"x":-0.96,"y":-0.94},{"x":-0.94,"y":-0.91},{"x":-0.91,"y":0.22},{"x":0.22,"y":0.57},{"x":0.57,"y":0.87},{"x":0.87,"y":0.62},{"x":0.62,"y":0.32},{"x":0.32,"y":0.24},{"x":0.24,"y":-1.40},
{"x":-1.40,"y":-1.42},{"x":-1.42,"y":-1.39},{"x":-1.39,"y":-1.41},{"x":-1.41,"y":1.04},{"x":1.04,"y":0.79},{"x":0.79,"y":1.14},{"x":1.14,"y":1.44},{"x":1.44,"y":1.61},{"x":1.61,"y":1.69},{"x":1.69,"y":1.59},{"x":1.59,"y":1.29},{"x":1.29,"y":0.89},{"x":0.89,"y":0.59},{"x":0.59,"y":-1.00},
{"x":-1.00,"y":-1.03},{"x":-1.03,"y":-1.01},{"x":-1.01,"y":-0.99},{"x":-0.99,"y":-1.02},{"x":-1.02,"y":0.58},{"x":0.58,"y":0.28},{"x":0.28,"y":0.63},{"x":0.63,"y":0.98},{"x":0.98,"y":1.28},{"x":1.28,"y":1.08},{"x":1.08,"y":0.73},{"x":0.73,"y":0.60},{"x":0.60,"y":-1.15},
{"x":-1.15,"y":-1.13},{"x":-1.13,"y":-1.16},{"x":-1.16,"y":-1.18},{"x":-1.18,"y":-1.17},{"x":-1.17,"y":-0.04},{"x":-0.04,"y":0.26},{"x":0.26,"y":0.51},{"x":0.51,"y":0.31},{"x":0.31,"y":0.06},{"x":0.06,"y":-0.16},{"x":-0.16,"y":-1.52},
{"x":-1.52,"y":-1.50},{"x":-1.50,"y":-1.48},{"x":-1.48,"y":-1.51},{"x":-1.51,"y":0.57},{"x":0.57,"y":0.37},{"x":0.37,"y":0.67},{"x":0.67,"y":1.02},{"x":1.02,"y":1.32},{"x":1.32,"y":1.57},{"x":1.57,"y":1.47},{"x":1.47,"y":1.12},{"x":1.12,"y":0.77},{"x":0.77,"y":0.52},{"x":0.52,"y":-0.92},
{"x":-0.92,"y":-0.90},{"x":-0.90,"y":-0.88},{"x":-0.88,"y":-0.91},{"x":-0.91,"y":1.38},{"x":1.38,"y":1.18},{"x":1.18,"y":1.43},{"x":1.43,"y":1.63},{"x":1.63,"y":1.70},{"x":1.70,"y":1.58},{"x":1.58,"y":1.33},{"x":1.33,"y":0.98},{"x":0.98,"y":0.68},{"x":0.68,"y":-1.05},
{"x":-1.05,"y":-1.07},{"x":-1.07,"y":-1.04},{"x":-1.04,"y":-1.06},{"x":-1.06,"y":-1.09},{"x":-1.09,"y":0.89},{"x":0.89,"y":0.64},{"x":0.64,"y":0.94},{"x":0.94,"y":1.24},{"x":1.24,"y":0.99},{"x":0.99,"y":0.69},{"x":0.69,"y":0.50},{"x":0.50,"y":-1.30},
{"x":-1.30,"y":-1.28},{"x":-1.28,"y":-1.31},{"x":-1.31,"y":-1.33},{"x":-1.33,"y":0.27},{"x":0.27,"y":0.02},{"x":0.02,"y":0.32},{"x":0.32,"y":0.67},{"x":0.67,"y":0.97},{"x":0.97,"y":0.77},{"x":0.77,"y":0.42},{"x":0.42,"y":0.07},{"x":0.07,"y":-1.50},
{"x":-1.50,"y":-1.47},{"x":-1.47,"y":-1.49},{"x":-1.49,"y":-1.46},{"x":-1.46,"y":0.86},{"x":0.86,"y":1.01},{"x":1.01,"y":1.26},{"x":1.26,"y":1.51},{"x":1.51,"y":1.69},{"x":1.69,"y":1.76},{"x":1.76,"y":1.66},{"x":1.66,"y":1.41},{"x":1.41,"y":1.06},{"x":1.06,"y":0.66},{"x":0.66,"y":-0.98},
{"x":-0.98,"y":-0.96},{"x":-0.96,"y":-0.99},{"x":-0.99,"y":-0.97},{"x":-0.97,"y":0.64},{"x":0.64,"y":0.44},{"x":0.44,"y":0.74},{"x":0.74,"y":1.04},{"x":1.04,"y":0.84},{"x":0.84,"y":0.49},{"x":0.49,"y":0.36},{"x":0.36,"y":-1.35},
{"x":-1.35,"y":-1.38},{"x":-1.38,"y":-1.36},{"x":-1.36,"y":-1.39},{"x":-1.39,"y":-1.37},{"x":-1.37,"y":0.83},{"x":0.83,"y":0.58},{"x":0.58,"y":0.93},{"x":0.93,"y":1.23},{"x":1.23,"y":1.48},{"x":1.48,"y":1.28},{"x":1.28,"y":0.93},{"x":0.93,"y":0.58},{"x":0.58,"y":-1.00},
{"x":-1.00,"y":-0.98},{"x":-0.98,"y":-1.01},{"x":-1.01,"y":-1.03},{"x":-1.03,"y":1.31},{"x":1.31,"y":1.11},{"x":1.11,"y":1.36},{"x":1.36,"y":1.54},{"x":1.54,"y":1.61},{"x":1.61,"y":1.46},{"x":1.46,"y":1.16},{"x":1.16,"y":0.76},{"x":0.76,"y":0.36},{"x":0.36,"y":-1.15},
{"x":-1.15,"y":-1.12},{"x":-1.12,"y":-1.14},{"x":-1.14,"y":-1.11},{"x":-1.11,"y":0.12},{"x":0.12,"y":0.47},{"x":0.47,"y":0.77},{"x":0.77,"y":0.57},{"x":0.57,"y":0.27},{"x":0.27,"y":0.14},{"x":0.14,"y":-1.48},
{"x":-1.48,"y":-1.50},{"x":-1.50,"y":-1.47},{"x":-1.47,"y":-1.49},{"x":-1.49,"y":0.88},{"x":0.88,"y":0.63},{"x":0.63,"y":0.98},{"x":0.98,"y":1.28},{"x":1.28,"y":1.50},{"x":1.50,"y":1.38},{"x":1.38,"y":1.03},{"x":1.03,"y":0.68},{"x":0.68,"y":0.33},{"x":0.33,"y":-1.10},
{"x":-1.10,"y":-1.08},{"x":-1.08,"y":-1.06},{"x":-1.06,"y":-1.09},{"x":-1.09,"y":0.54},{"x":0.54,"y":0.79},{"x":0.79,"y":0.49},{"x":0.49,"y":0.84},{"x":0.84,"y":1.14},{"x":1.14,"y":0.89},{"x":0.89,"y":0.49},{"x":0.49,"y":0.05},{"x":0.05,"y":-1.30},
{"x":-1.30,"y":-1.27},{"x":-1.27,"y":-1.29},{"x":-1.29,"y":-1.26},{"x":-1.26,"y":1.07},{"x":1.07,"y":0.82},{"x":0.82,"y":1.12},{"x":1.12,"y":1.37},{"x":1.37,"y":1.57},{"x":1.57,"y":1.67},{"x":1.67,"y":1.52},{"x":1.52,"y":1.17},{"x":1.17,"y":0.82},{"x":0.82,"y":0.52},{"x":0.52,"y":-0.90},
{"x":-0.90,"y":-0.87},{"x":-0.87,"y":-0.89},{"x":-0.89,"y":-0.86},{"x":-0.86,"y":0.63},{"x":0.63,"y":0.98},{"x":0.98,"y":1.28},{"x":1.28,"y":1.08},{"x":1.08,"y":0.73},{"x":0.73,"y":0.43},{"x":0.43,"y":0.13},{"x":0.13,"y":-1.42},
{"x":-1.42,"y":-1.40},{"x":-1.40,"y":-1.43},{"x":-1.43,"y":-1.45},{"x":-1.45,"y":0.69},{"x":0.69,"y":0.44},{"x":0.44,"y":0.79},{"x":0.79,"y":1.09},{"x":1.09,"y":0.84},{"x":0.84,"y":0.49},{"x":0.49,"y":0.36},{"x":0.36,"y":-1.25},
{"x":-1.25,"y":-1.22},{"x":-1.22,"y":-1.24},{"x":-1.24,"y":-1.21},{"x":-1.21,"y":-1.23},{"x":-1.23,"y":0.26},{"x":0.26,"y":0.56},{"x":0.56,"y":0.91},{"x":0.91,"y":1.21},{"x":1.21,"y":1.41},{"x":1.41,"y":1.26},{"x":1.26,"y":0.96},{"x":0.96,"y":0.61},{"x":0.61,"y":0.26},{"x":0.26,"y":-1.20},
{"x":-1.20,"y":-1.17},{"x":-1.17,"y":-1.19},{"x":-1.19,"y":-1.16},{"x":-1.16,"y":1.21},{"x":1.21,"y":0.96},{"x":0.96,"y":1.26},{"x":1.26,"y":1.51},{"x":1.51,"y":1.66},{"x":1.66,"y":1.58},{"x":1.58,"y":1.36},{"x":1.36,"y":0.96},{"x":0.96,"y":0.56},{"x":0.56,"y":-0.95},
{"x":-0.95,"y":-0.92},{"x":-0.92,"y":-0.94},{"x":-0.94,"y":-0.97},{"x":-0.97,"y":0.02},{"x":0.02,"y":0.27},{"x":0.27,"y":0.57},{"x":0.57,"y":0.42},{"x":0.42,"y":0.17},{"x":0.17,"y":-0.08},{"x":-0.08,"y":-1.50},
{"x":-1.50,"y":-1.53},{"x":-1.53,"y":-1.51},{"x":-1.51,"y":-1.54},{"x":-1.54,"y":0.47},{"x":0.47,"y":0.27},{"x":0.27,"y":0.57},{"x":0.57,"y":0.92},{"x":0.92,"y":1.22},{"x":1.22,"y":1.42},{"x":1.42,"y":1.27},{"x":1.27,"y":0.92},{"x":0.92,"y":0.52},{"x":0.52,"y":0.17},{"x":0.17,"y":-1.30},
{"x":-1.30,"y":-1.32},{"x":-1.32,"y":-1.29},{"x":-1.29,"y":-1.31},{"x":-1.31,"y":-1.34},{"x":-1.34,"y":0.99},{"x":0.99,"y":0.74},{"x":0.74,"y":1.09},{"x":1.09,"y":1.39},{"x":1.39,"y":1.59},{"x":1.59,"y":1.44},{"x":1.44,"y":1.09},{"x":1.09,"y":0.74},{"x":0.74,"y":-0.85},
{"x":-0.85,"y":-0.87},{"x":-0.87,"y":-0.86},{"x":-0.86,"y":-0.89},{"x":-0.89,"y":0.83},{"x":0.83,"y":1.08},{"x":1.08,"y":1.33},{"x":1.33,"y":1.18},{"x":1.18,"y":0.88},{"x":0.88,"y":0.53},{"x":0.53,"y":-0.95},
{"x":-0.95,"y":-0.98},{"x":-0.98,"y":-0.96},{"x":-0.96,"y":-1.00},{"x":-1.00,"y":0.33},{"x":0.33,"y":0.63},{"x":0.63,"y":0.93},{"x":0.93,"y":1.18},{"x":1.18,"y":0.93},{"x":0.93,"y":0.58},{"x":0.58,"y":0.18},{"x":0.18,"y":-1.20},
{"x":-1.20,"y":-1.23},{"x":-1.23,"y":-1.21},{"x":-1.21,"y":-1.24},{"x":-1.24,"y":0.69},{"x":0.69,"y":0.44},{"x":0.44,"y":0.74},{"x":0.74,"y":1.04},{"x":1.04,"y":1.34},{"x":1.34,"y":1.54},{"x":1.54,"y":1.44},{"x":1.44,"y":1.14},{"x":1.14,"y":0.79},{"x":0.79,"y":0.44},{"x":0.44,"y":-1.10},
{"x":-1.10,"y":-1.13},{"x":-1.13,"y":-1.11},{"x":-1.11,"y":-1.14},{"x":-1.14,"y":0.17},{"x":0.17,"y":0.42},{"x":0.42,"y":0.22},{"x":0.22,"y":0.52},{"x":0.52,"y":0.82},{"x":0.82,"y":0.62},{"x":0.62,"y":0.37},{"x":0.37,"y":0.22},{"x":0.22,"y":-1.40},
{"x":-1.40,"y":-1.37},{"x":-1.37,"y":-1.39},{"x":-1.39,"y":-1.36},{"x":-1.36,"y":0.81},{"x":0.81,"y":1.01},{"x":1.01,"y":0.81},{"x":0.81,"y":1.11},{"x":1.11,"y":1.36},{"x":1.36,"y":1.51},{"x":1.51,"y":1.31},{"x":1.31,"y":0.96},{"x":0.96,"y":0.61},{"x":0.61,"y":-0.92},
{"x":-0.92,"y":-0.94},{"x":-0.94,"y":-0.91},{"x":-0.91,"y":-0.93},{"x":-0.93,"y":1.01},{"x":1.01,"y":1.26},{"x":1.26,"y":1.06},{"x":1.06,"y":1.31},{"x":1.31,"y":1.51},{"x":1.51,"y":1.36},{"x":1.36,"y":1.06},{"x":1.06,"y":0.71},{"x":0.71,"y":0.41},{"x":0.41,"y":-1.08},
{"x":-1.08,"y":-1.05},{"x":-1.05,"y":-1.07},{"x":-1.07,"y":-1.04},{"x":-1.04,"y":0.42},{"x":0.42,"y":0.17},{"x":0.17,"y":0.47},{"x":0.47,"y":0.77},{"x":0.77,"y":0.57},{"x":0.57,"y":0.27},{"x":0.27,"y":0.25},{"x":0.25,"y":-1.45},
{"x":-1.45,"y":-1.43},{"x":-1.43,"y":-1.46},{"x":-1.46,"y":-1.44},{"x":-1.44,"y":0.39},{"x":0.39,"y":0.69},{"x":0.69,"y":0.99},{"x":0.99,"y":1.29},{"x":1.29,"y":1.49},{"x":1.49,"y":1.62},{"x":1.62,"y":1.49},{"x":1.49,"y":1.19},{"x":1.19,"y":0.79},{"x":0.79,"y":0.39},{"x":0.39,"y":-1.15},
{"x":-1.15,"y":-1.18},{"x":-1.18,"y":-1.16},{"x":-1.16,"y":-1.19},{"x":-1.19,"y":0.83},{"x":0.83,"y":1.08},{"x":1.08,"y":1.33},{"x":1.33,"y":1.13},{"x":1.13,"y":0.78},{"x":0.78,"y":0.43},{"x":0.43,"y":0.34},{"x":0.34,"y":-1.28},
{"x":-1.28,"y":-1.30},{"x":-1.30,"y":-1.27},{"x":-1.27,"y":-1.29},{"x":-1.29,"y":0.08},{"x":0.08,"y":0.38},{"x":0.38,"y":0.68},{"x":0.68,"y":0.53},{"x":0.53,"y":0.23},{"x":0.23,"y":-1.32},
{"x":-1.32,"y":-1.35},{"x":-1.35,"y":-1.33},{"x":-1.33,"y":1.14},{"x":1.14,"y":1.34},{"x":1.34,"y":1.54},{"x":1.54,"y":1.39},{"x":1.39,"y":1.09},{"x":1.09,"y":0.74},{"x":0.74,"y":0.44},{"x":0.44,"y":-1.00},
{"x":-1.00,"y":-1.02},{"x":-1.02,"y":-0.99},{"x":-0.99,"y":0.80},{"x":0.80,"y":0.815},{"x":0.815,"y":0.83},{"x":0.83,"y":0.845},{"x":0.845,"y":0.86},{"x":0.86,"y":0.875},{"x":0.875,"y":0.89},{"x":0.89,"y":0.905},{"x":0.905,"y":0.92},{"x":0.92,"y":0.935},{"x":0.935,"y":0.95},{"x":0.95,"y":0.965},{"x":0.965,"y":0.98},{"x":0.98,"y":0.995},{"x":0.995,"y":1.01},{"x":1.01,"y":1.025},{"x":1.025,"y":1.04},{"x":1.04,"y":1.055},{"x":1.055,"y":1.07},{"x":1.07,"y":1.085},{"x":1.085,"y":1.10},{"x":1.10,"y":1.115},{"x":1.115,"y":1.13},{"x":1.13,"y":1.145},{"x":1.145,"y":1.16},{"x":1.16,"y":1.175},{"x":1.175,"y":1.19},{"x":1.19,"y":1.205},{"x":1.205,"y":1.22},{"x":1.22,"y":1.235},{"x":1.235,"y":1.25},{"x":1.25,"y":1.265},{"x":1.265,"y":1.28},{"x":1.28,"y":1.295},{"x":1.295,"y":1.31},{"x":1.31,"y":1.325},{"x":1.325,"y":1.34},{"x":1.34,"y":1.355},{"x":1.355,"y":1.37},{"x":1.37,"y":1.385},{"x":1.385,"y":1.40},{"x":1.40,"y":1.415},{"x":1.415,"y":1.43},{"x":1.43,"y":1.445},{"x":1.445,"y":1.46},{"x":1.46,"y":1.475},{"x":1.475,"y":1.49},{"x":1.49,"y":1.505},{"x":1.505,"y":1.52},{"x":1.52,"y":1.535},{"x":1.535,"y":1.55},{"x":1.55,"y":1.565},{"x":1.565,"y":1.58},{"x":1.58,"y":1.595},{"x":1.595,"y":1.61},{"x":1.61,"y":1.625},{"x":1.625,"y":1.64},{"x":1.64,"y":1.655},{"x":1.655,"y":1.67},{"x":1.67,"y":1.685},{"x":1.685,"y":1.70},{"x":1.70,"y":1.715},{"x":1.715,"y":1.73},{"x":1.73,"y":1.745},{"x":1.745,"y":1.76},{"x":1.76,"y":1.55},{"x":1.55,"y":1.15},{"x":1.15,"y":0.75},{"x":0.75,"y":0.55},{"x":0.55,"y":-0.86},
{"x":-0.86,"y":-0.87},{"x":-0.87,"y":-0.88},{"x":-0.88,"y":-0.89},{"x":-0.89,"y":-0.90},{"x":-0.90,"y":-0.91},{"x":-0.91,"y":-0.92},{"x":-0.92,"y":-0.93},{"x":-0.93,"y":-0.94},{"x":-0.94,"y":-0.95},{"x":-0.95,"y":-0.96},{"x":-0.96,"y":-0.97},{"x":-0.97,"y":-0.98},{"x":-0.98,"y":-0.99},{"x":-0.99,"y":-1.00},{"x":-1.00,"y":-1.01},{"x":-1.01,"y":-1.02},{"x":-1.02,"y":-1.03},{"x":-1.03,"y":-1.04},{"x":-1.04,"y":-1.05},{"x":-1.05,"y":-1.06},{"x":-1.06,"y":-1.07},{"x":-1.07,"y":-1.08},{"x":-1.08,"y":-1.09},{"x":-1.09,"y":-1.10},{"x":-1.10,"y":-1.11},{"x":-1.11,"y":-1.12},{"x":-1.12,"y":-1.13},{"x":-1.13,"y":-1.14},{"x":-1.14,"y":-1.15},{"x":-1.15,"y":-1.16},{"x":-1.16,"y":-1.17},{"x":-1.17,"y":-1.18},{"x":-1.18,"y":-1.19},{"x":-1.19,"y":-1.20},{"x":-1.20,"y":-1.21},{"x":-1.21,"y":-1.22},{"x":-1.22,"y":-1.23},{"x":-1.23,"y":-1.24},{"x":-1.24,"y":-1.25},{"x":-1.25,"y":-1.26},{"x":-1.26,"y":-1.27},{"x":-1.27,"y":-1.28},{"x":-1.28,"y":-1.29},{"x":-1.29,"y":-1.30},{"x":-1.30,"y":-1.31},{"x":-1.31,"y":-1.32},{"x":-1.32,"y":-1.33},{"x":-1.33,"y":-1.34},{"x":-1.34,"y":-1.35},{"x":-1.35,"y":-1.36},{"x":-1.36,"y":-1.37},{"x":-1.37,"y":-1.38},{"x":-1.38,"y":-1.39},{"x":-1.39,"y":-1.40},{"x":-1.40,"y":-1.41},{"x":-1.41,"y":-1.42},{"x":-1.42,"y":-1.43},{"x":-1.43,"y":-1.44},{"x":-1.44,"y":-1.45},{"x":-1.45,"y":-1.46},{"x":-1.46,"y":-1.47},{"x":-1.47,"y":-1.48},{"x":-1.48,"y":-1.49},{"x":-1.49,"y":-1.50},{"x":-1.50,"y":-1.51},{"x":-1.51,"y":-1.52},{"x":-1.52,"y":-1.53},{"x":-1.53,"y":-1.54},{"x":-1.54,"y":-1.55}]},
 "layer":[
  {"data":{"values":[{"x":-2,"y":-2},{"x":2.25,"y":2.25}]},"mark":{"type":"line","color":"#cfcfcf","strokeWidth":2.2,"clip":true},
   "encoding":{
    "x":{"field":"x","type":"quantitative","scale":{"domain":[-2,2.25],"nice":false,"zero":false},"axis":{"orient":"bottom","values":[-2,-1.5,-1,-0.5,0,0.5,1,1.5,2],"labelExpr":"(datum.value < 0 ? '-' : '') + format(abs(datum.value), '.1f')","title":"Xₜ","labelPadding":10,"titlePadding":11,"tickSize":7}},
    "y":{"field":"y","type":"quantitative","scale":{"domain":[-2,2.25],"nice":false,"zero":false},"axis":{"orient":"left","values":[-2,-1.5,-1,-0.5,0,0.5,1,1.5,2],"labelExpr":"(datum.value < 0 ? '-' : '') + format(abs(datum.value), '.1f')","title":"Xₜ₊₁","labelPadding":9,"titlePadding":17,"tickSize":7}}}},
  {"mark":{"type":"line","color":"#a6a6a6","strokeWidth":0.7,"clip":true},
   "encoding":{
    "x":{"field":"x","type":"quantitative","axis":null},
    "y":{"field":"y","type":"quantitative","axis":null},
    "order":{"value":null}}},
  {"mark":{"type":"circle","size":64,"fill":"white","fillOpacity":1,"stroke":"#444","strokeWidth":0.9,"opacity":1},
   "encoding":{
    "x":{"field":"x","type":"quantitative","axis":null},
    "y":{"field":"y","type":"quantitative","axis":null}}},
  {"data":{"values":[{"x":0,"y":0}]},"mark":{"type":"point","opacity":0},
   "encoding":{
    "x":{"field":"x","type":"quantitative","axis":{"orient":"top","values":[-2,-1.5,-1,-0.5,0,0.5,1,1.5,2],"labels":false,"title":null,"tickSize":7}},
    "y":{"field":"y","type":"quantitative","axis":{"orient":"right","values":[-2,-1.5,-1,-0.5,0,0.5,1,1.5,2],"labels":false,"title":null,"tickSize":7}}}},
  {"data":{"values":[{"x":0,"y":0}]},"mark":{"type":"point","opacity":0},
   "encoding":{
    "x":{"field":"x","type":"quantitative","axis":{"orient":"bottom","values":[-1.75,-1.25,-0.75,-0.25,0.25,0.75,1.25,1.75],"labels":false,"title":null,"tickSize":4.5}},
    "y":{"field":"y","type":"quantitative","axis":{"orient":"left","values":[-1.75,-1.25,-0.75,-0.25,0.25,0.75,1.25,1.75],"labels":false,"title":null,"tickSize":4.5}}}},
  {"data":{"values":[{"x":0,"y":0}]},"mark":{"type":"point","opacity":0},
   "encoding":{
    "x":{"field":"x","type":"quantitative","axis":{"orient":"top","values":[-1.75,-1.25,-0.75,-0.25,0.25,0.75,1.25,1.75],"labels":false,"title":null,"tickSize":4.5}},
    "y":{"field":"y","type":"quantitative","axis":{"orient":"right","values":[-1.75,-1.25,-0.75,-0.25,0.25,0.75,1.25,1.75],"labels":false,"title":null,"tickSize":4.5}}}},
  {"data":{"values":[{}]},"mark":{"type":"text","text":"(d)","fontSize":24,"fontWeight":"bold","align":"left","baseline":"alphabetic","color":"#1a1a1a"},
   "encoding":{"x":{"datum":-1.81,"type":"quantitative","axis":null},"y":{"datum":1.865,"type":"quantitative","axis":null}}}
 ],
 "resolve":{"axis":{"x":"independent","y":"independent"}}
}
]
}
